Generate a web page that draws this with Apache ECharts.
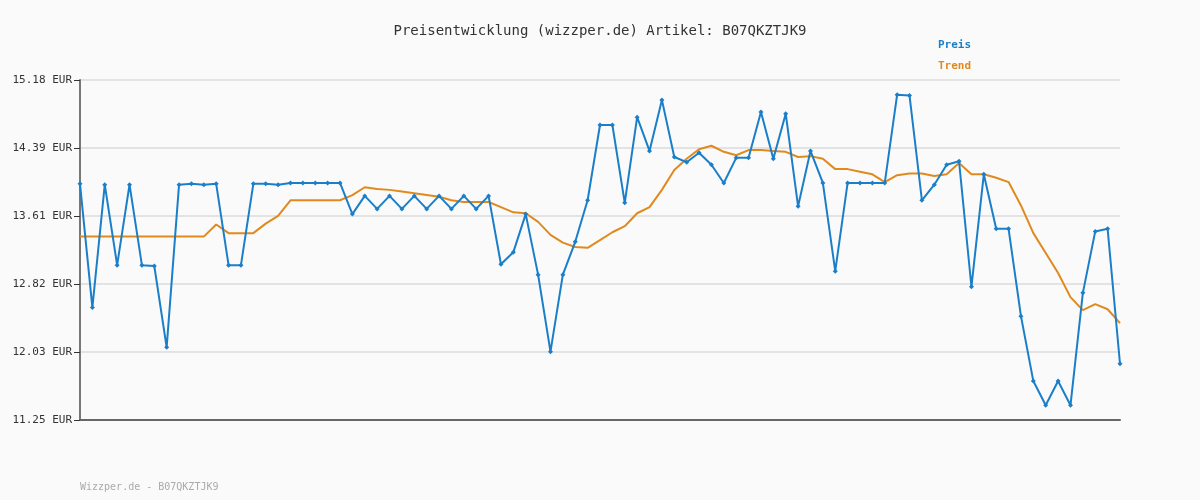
<!DOCTYPE html>
<html><head><meta charset="utf-8">
<script src="https://cdn.jsdelivr.net/npm/echarts@6/dist/echarts.min.js"></script>
<style>html,body{margin:0;background:#fafafa}#c{width:1200px;height:500px}</style>
</head><body><div id="c"></div>
<script>
const preis = [13.98,12.55,13.97,13.04,13.97,13.04,13.03,12.09,13.97,13.98,13.97,13.98,13.04,13.04,13.98,13.98,13.97,13.99,13.99,13.99,13.99,13.99,13.63,13.84,13.69,13.84,13.69,13.84,13.69,
13.84,13.69,13.84,13.69,13.84,13.05,13.19,13.63,12.93,12.04,12.93,13.31,13.79,14.66,14.66,13.76,14.75,14.36,14.95,14.29,14.23,14.34,14.20,13.99,14.28,14.28,14.81,14.27,
14.79,13.72,14.36,13.99,12.97,13.99,13.99,13.99,13.99,15.01,15.00,13.79,13.97,14.20,14.24,12.79,14.09,13.46,13.46,12.45,11.70,11.42,11.70,11.42,12.72,13.43,13.46,11.90];
const trend = [13.37,13.37,13.37,13.37,13.37,13.37,13.37,13.37,13.37,13.37,13.37,13.51,13.41,13.41,13.41,13.52,13.61,13.79,13.79,13.79,13.79,13.79,13.85,13.94,13.92,13.91,13.89,13.87,13.85,
13.83,13.79,13.77,13.77,13.77,13.71,13.65,13.64,13.54,13.39,13.30,13.25,13.24,13.33,13.42,13.49,13.64,13.71,13.91,14.14,14.27,14.38,14.42,14.35,14.31,14.37,14.37,14.36,
14.35,14.29,14.30,14.27,14.15,14.15,14.12,14.09,14.00,14.08,14.10,14.10,14.07,14.09,14.22,14.09,14.09,14.05,14.00,13.73,13.41,13.18,12.95,12.67,12.52,12.59,12.53,12.37];
const tickLabels = ['11.25','12.03','12.82','13.61','14.39','15.18'];
const categories = preis.map((_, i) => String(i + 1));
const yMin = 11.25, yMax = 15.18;
const mono = 'DejaVu Sans Mono';
const chart = echarts.init(document.getElementById('c'));
chart.setOption({
  backgroundColor: '#fafafa',
  animation: false,
  title: { text: 'Preisentwicklung (wizzper.de) Artikel: B07QKZTJK9', left: 'center', top: 19,
    textStyle: { fontFamily: mono, fontSize: 14, fontWeight: 'normal', color: '#333' } },
  graphic: [
    { type: 'text', left: 938, top: 40, style: { text: 'Preis', fill: '#1a7fc8', font: 'bold 11px "DejaVu Sans Mono"' } },
    { type: 'text', left: 938, top: 61, style: { text: 'Trend', fill: '#e08a1e', font: 'bold 11px "DejaVu Sans Mono"' } },
    { type: 'text', left: 80, top: 482, style: { text: 'Wizzper.de - B07QKZTJK9', fill: '#aaa', font: '10px "DejaVu Sans Mono"' } }
  ],
  grid: { left: 80, right: 80, top: 80, bottom: 80 },
  xAxis: { type: 'category', data: categories, boundaryGap: false,
    axisLine: { lineStyle: { color: '#666', width: 2 } }, axisTick: { show: false }, axisLabel: { show: false } },
  yAxis: { type: 'value', min: yMin, max: yMax, interval: (yMax - yMin) / 5,
    axisLine: { show: true, lineStyle: { color: '#777', width: 2 } },
    axisTick: { show: true, length: 6, lineStyle: { color: '#333' } },
    splitLine: { lineStyle: { color: '#e3e3e3', width: 2 } },
    axisLabel: { fontFamily: mono, fontSize: 11, color: '#333', margin: 8,
      formatter: v => tickLabels[Math.round((v - yMin) / ((yMax - yMin) / 5))] + ' EUR' } },
  series: [
    { name: 'Trend', type: 'line', data: trend, symbol: 'none', lineStyle: { color: '#e08a1e', width: 2 } },
    { name: 'Preis', type: 'line', data: preis, symbol: 'diamond', symbolSize: 5,
      itemStyle: { color: '#1a7fc8' }, lineStyle: { color: '#1a7fc8', width: 2 } }
  ]
});
</script></body></html>
